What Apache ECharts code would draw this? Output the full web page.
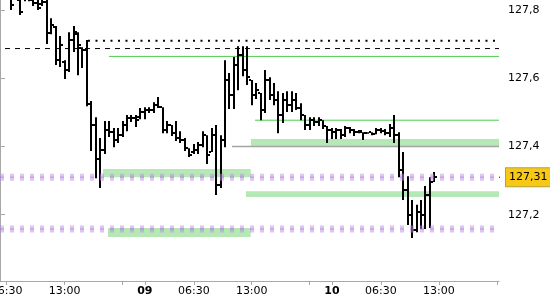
<!DOCTYPE html>
<html><head><meta charset="utf-8">
<script src="https://cdn.jsdelivr.net/npm/echarts/dist/echarts.min.js"></script>
<style>html,body{margin:0;padding:0;background:#fff}#c{width:550px;height:300px}</style>
</head><body><div id="c"></div>
<script>
// ---- data ----
const slotCount = 112;
const xLabels = [[1,'06:30'],[14,'13:00'],[32,'09'],[43,'06:30'],[56,'13:00'],[74,'10'],[85,'06:30'],[98,'13:00']];
const dayLabels = ['09','10'];
const xTickSlots = [1,14,27,32,43,56,69,74,85,98,111];

const opens = [null,null,127.844,null,127.829,127.859,127.844,127.829,127.820,127.817,
127.823,127.732,127.750,127.653,127.647,127.624,127.712,127.729,127.688,127.683,
127.524,127.463,127.363,127.389,127.448,127.442,127.419,127.433,127.463,127.483,
127.483,127.486,127.501,127.507,127.507,127.521,127.515,127.448,127.463,127.439,
127.425,127.419,127.395,127.384,127.389,127.404,127.433,127.384,127.433,127.287,
127.419,127.595,127.551,127.639,127.668,127.624,127.595,127.551,127.557,127.507,
127.595,127.551,127.536,127.492,127.536,127.521,127.536,127.513,127.492,127.463,
127.477,127.472,127.477,127.460,127.448,127.442,127.448,127.433,127.454,127.448,
127.442,127.442,127.439,127.442,127.436,127.448,127.445,127.439,127.454,127.433,
127.331,127.272,127.199,127.155,127.208,127.199,127.258,127.296];
const highs = [null,null,127.888,null,127.873,127.888,127.888,127.859,127.859,127.859,
127.844,127.776,127.753,127.724,127.653,127.735,127.753,127.735,127.691,127.712,
127.533,127.486,127.425,127.475,127.475,127.454,127.454,127.475,127.492,127.492,
127.492,127.513,127.515,127.515,127.530,127.545,127.515,127.475,127.463,127.475,
127.445,127.425,127.395,127.407,127.413,127.445,127.433,127.454,127.463,127.433,
127.653,127.615,127.662,127.694,127.694,127.694,127.595,127.586,127.557,127.624,
127.603,127.586,127.562,127.557,127.562,127.562,127.557,127.527,127.492,127.486,
127.486,127.486,127.477,127.460,127.454,127.454,127.451,127.460,127.457,127.451,
127.448,127.442,127.442,127.442,127.454,127.454,127.451,127.466,127.492,127.442,
127.384,127.313,127.243,127.229,127.243,127.284,127.310,127.325];
const lows = [null,null,127.800,null,127.785,127.826,127.826,127.812,127.800,127.812,
127.700,127.729,127.639,127.633,127.598,127.618,127.677,127.609,127.630,127.518,
127.387,127.307,127.278,127.378,127.428,127.398,127.410,127.428,127.445,127.472,
127.457,127.480,127.480,127.498,127.498,127.513,127.439,127.439,127.431,127.416,
127.410,127.387,127.369,127.378,127.378,127.398,127.349,127.384,127.258,127.278,
127.398,127.510,127.510,127.565,127.606,127.580,127.521,127.539,127.477,127.498,
127.536,127.521,127.439,127.469,127.501,127.501,127.507,127.477,127.448,127.448,
127.460,127.460,127.451,127.410,127.422,127.422,127.422,127.428,127.439,127.431,
127.439,127.419,127.439,127.433,127.436,127.439,127.433,127.428,127.410,127.310,
127.243,127.170,127.132,127.149,127.158,127.158,127.161,127.296];
const closes = [null,null,127.815,null,127.794,127.835,127.829,127.820,127.806,127.823,
127.732,127.756,127.653,127.697,127.624,127.712,127.735,127.697,127.683,127.524,
127.463,127.363,127.389,127.448,127.442,127.419,127.433,127.463,127.483,127.483,
127.477,127.501,127.507,127.507,127.521,127.515,127.448,127.463,127.439,127.425,
127.419,127.395,127.375,127.389,127.404,127.433,127.375,127.433,127.287,127.419,
127.595,127.551,127.639,127.668,127.624,127.603,127.551,127.565,127.507,127.595,
127.551,127.536,127.492,127.536,127.521,127.536,127.513,127.492,127.463,127.477,
127.472,127.477,127.460,127.448,127.442,127.448,127.433,127.454,127.448,127.442,
127.445,127.439,127.442,127.436,127.448,127.445,127.439,127.454,127.433,127.331,
127.272,127.199,127.155,127.208,127.199,127.258,127.296,127.310];

const lastPrice = 127.31;
const dashedLevel = 127.687;          // black dashed, full width
const dottedLevel = [127.710, 19.75]; // black dotted [value, start slot]
const greenLevels = [[127.664, 24.47], [127.477, 57.24]];
const grayLevel = [127.40, 52.08];
const purpleLevels = [127.31, 127.158];
// bands: [startSlot, endSlot, low, high]
const greenBands = [[56.34,112,127.401,127.422],[23.12,56.28,127.310,127.334],[55.22,112,127.252,127.269],[24.24,56.28,127.135,127.161]];

// ---- chart ----
const FONT = 'DejaVu Sans';
const labelMap = {}; xLabels.forEach(([i,t]) => labelMap[i] = t);
const categories = Array.from({length: slotCount}, (_, i) => 'slot' + i);
const ohlc = [];
for (let i = 0; i < opens.length; i++) if (opens[i] != null) ohlc.push([i, opens[i], highs[i], lows[i], closes[i]]);

function hLine(y, x0, x1, lineStyle, z) {
  return {type:'line', xAxisIndex:1, data:[[x0,y],[x1,y]], symbol:'none', silent:true, z, lineStyle};
}

const series = [];
series.push({
  type:'custom', xAxisIndex:1, z:1, silent:true, clip:true,
  data: greenBands,
  renderItem(params, api) {
    const p0 = api.coord([api.value(0), api.value(3)]);
    const p1 = api.coord([api.value(1), api.value(2)]);
    return {type:'rect', shape:{x:p0[0], y:p0[1], width:p1[0]-p0[0], height:p1[1]-p0[1]}, style:{fill:'#b5e8b5'}};
  }
});
series.push(hLine(grayLevel[0], grayLevel[1], slotCount, {color:'#a4a4a4', width:1.5}, 2));
greenLevels.forEach(g => series.push(hLine(g[0], g[1], slotCount, {color:'#4dcc4d', width:1}, 2)));
series.push(hLine(dashedLevel, 0, slotCount, {color:'#000', width:1, type:[5,5], dashOffset:5}, 2));
series.push(hLine(dottedLevel[0], dottedLevel[1], slotCount, {color:'#000', width:2, type:[2,5.5]}, 2));
series.push({
  type:'custom', xAxisIndex:0, z:3, silent:true, clip:true,
  encode:{x:0, y:[1,2,3,4]},
  data: ohlc,
  renderItem(params, api) {
    const x = api.value(0);
    const pO = api.coord([x, api.value(1)]);
    const pH = api.coord([x, api.value(2)]);
    const pL = api.coord([x, api.value(3)]);
    const pC = api.coord([x, api.value(4)]);
    const cx = Math.round(pH[0]);
    const st = {fill:'#000'};
    return {type:'group', children:[
      {type:'rect', shape:{x:cx-1, y:pH[1], width:2, height:Math.max(1.5, pL[1]-pH[1])}, style:st},
      {type:'rect', shape:{x:cx-3, y:Math.round(pO[1])-1, width:2, height:2}, style:st},
      {type:'rect', shape:{x:cx+1, y:Math.round(pC[1])-1, width:2, height:2}, style:st}
    ]};
  }
});
purpleLevels.forEach(v => {
  series.push(hLine(v, 0, slotCount, {color:'rgba(190,140,232,0.5)', width:7, type:[4,6]}, 4));
  series.push(hLine(v, 0, slotCount, {color:'rgba(150,90,200,0.3)', width:1.5, type:[4,6]}, 4));
});
series.push({
  type:'line', xAxisIndex:1, z:5, silent:true, clip:false, symbol:'none',
  data:[[slotCount, lastPrice],[slotCount + 1.35, lastPrice]],
  lineStyle:{color:'#000', width:1},
  endLabel:{show:true, distance:6, formatter: () => lastPrice.toFixed(2).replace('.', ','),
    backgroundColor:'#f7c815', borderColor:'#b5a04a', borderWidth:1, padding:[4,3,3,3],
    color:'#000', fontFamily:FONT, fontSize:11}
});

const chart = echarts.init(document.getElementById('c'), null, {renderer:'canvas'});
chart.setOption({
  animation:false,
  backgroundColor:'#fff',
  grid:{left:0, right:51, top:0, bottom:19, containLabel:false, outerBoundsMode:'none'},
  xAxis:[
    {type:'category', data:categories, boundaryGap:true,
     axisLine:{show:true, lineStyle:{color:'#a8a8a8'}},
     axisTick:{show:true, alignWithLabel:true, length:4, interval:(i) => xTickSlots.includes(i), lineStyle:{color:'#a8a8a8'}},
     axisLabel:{interval:(i) => labelMap[i] !== undefined, margin:5, color:'#000', fontFamily:FONT, fontSize:11,
       formatter:(v, i) => { const t = labelMap[i] || ''; return dayLabels.includes(t) ? '{b|' + t + '}' : t; },
       rich:{b:{fontWeight:'bold', color:'#000', fontFamily:FONT, fontSize:11}}},
     splitLine:{show:false}},
    {type:'value', min:0, max:slotCount, show:false}
  ],
  yAxis:{type:'value', position:'right', min:127.0058, max:127.8293, splitNumber:4,
    splitLine:{show:false},
    axisLine:{show:true, lineStyle:{color:'#a8a8a8'}},
    axisTick:{show:true, length:5, lineStyle:{color:'#a8a8a8'}},
    axisLabel:{margin:9, color:'#000', fontFamily:FONT, fontSize:11, showMinLabel:false, showMaxLabel:false,
      formatter:(v) => Math.abs(v*5 - Math.round(v*5)) < 1e-6 ? v.toFixed(1).replace('.', ',') : ''}},
  series
});
</script></body></html>
